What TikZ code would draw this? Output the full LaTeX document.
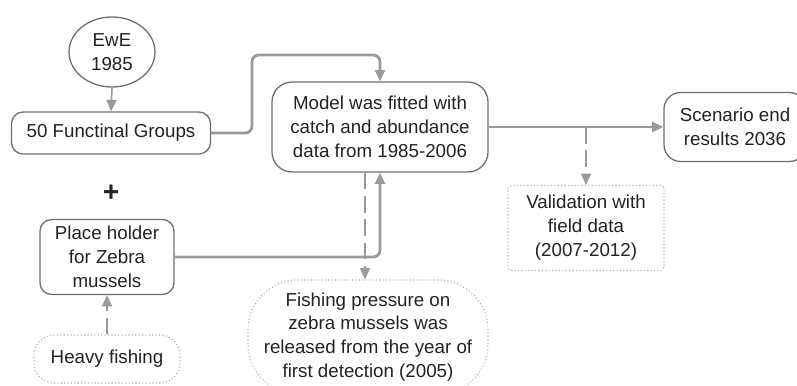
\documentclass[tikz,border=0pt]{standalone}
\usepackage{fontspec}
\setmainfont{Liberation Sans}
\usepackage{tikz}
\usetikzlibrary{arrows.meta,positioning,calc,shapes.geometric}
\definecolor{linegray}{HTML}{9A9A9A}
\definecolor{edgegray}{HTML}{6E6E6E}
\definecolor{dotgray}{HTML}{AAAAAA}
\definecolor{textgray}{HTML}{222222}
\tikzset{%
  box/.style={draw=edgegray,line width=1.1pt,rounded corners=3.5mm,align=center,inner sep=2pt},
  note/.style={draw=dotgray,dotted,line width=0.9pt,align=center,inner sep=2pt},
  arrow/.style={-{Triangle[length=3.4mm,width=3mm]}, draw=linegray, line width=2.3pt},
  dasharrow/.style={-{Triangle[length=3.4mm,width=3mm]}, draw=linegray, line width=1.2pt, dash pattern=on 5mm off 2mm}%
}

\begin{document}
\begin{tikzpicture}[
    font=\fontsize{16}{20.4}\selectfont, text=textgray
]
\useasboundingbox (0,0) rectangle (23.91,-11.58);

% Inputs on the left
\node[ellipse, draw=edgegray, line width=1.1pt, minimum width=2.58cm, minimum height=2.1cm, inner sep=0pt, align=center] (ewe) at (3.36,-1.56) {EwE\\1985};
\node[box, minimum width=5.97cm, minimum height=1.26cm] (groups) at (3.33,-3.99) {50 Functinal Groups};
\node[font=\fontsize{24}{24}\bfseries] (plus) at (3.33,-5.79) {+};
\node[box, minimum width=4.02cm, minimum height=2.25cm] (holder) at (3.21,-7.71) {Place holder\\for Zebra\\mussels};
\node[note, rounded corners=6mm, minimum width=4.38cm, minimum height=1.44cm] (heavy) at (3.21,-10.77) {Heavy fishing};

% Model and results
\node[box, rounded corners=6mm, minimum width=6.48cm, minimum height=2.7cm] (model) at (11.4,-3.81) {Model was fitted with\\catch and abundance\\data from 1985-2006};
\node[box, rounded corners=5mm, minimum width=4.26cm, minimum height=2.07cm] (scenario) at (22.05,-3.81) {Scenario end\\results 2036};
\node[note, rounded corners=1mm, minimum width=4.68cm, minimum height=2.55cm] (valid) at (17.58,-6.84) {Validation with\\field data\\(2007-2012)};
\node[note, rounded corners=15mm, minimum width=7.2cm, minimum height=3.42cm] (pressure) at (11.04,-10.11) {Fishing pressure on\\zebra mussels was\\released from the year of\\first detection (2005)};

% Connectors
\coordinate (bend) at (7.56,-1.65);
\coordinate (split) at (valid.north |- model.east);
\draw[arrow, line width=1.4pt] (ewe.south) -- (groups.north);
\draw[arrow, rounded corners=2mm] (groups.east) -| (bend) -| (model.north);
\draw[arrow, rounded corners=2mm] (holder.east) -| (model.south);
\draw[arrow] (model.east) -- (scenario.west);
\draw[dasharrow] (split) -- (valid.north);
\draw[dasharrow] ([xshift=-4.5mm]model.south) -- ([xshift=-4.5mm]model.south |- pressure.north);
\draw[dasharrow] (heavy.north) -- (holder.south);

\end{tikzpicture}
\end{document}
